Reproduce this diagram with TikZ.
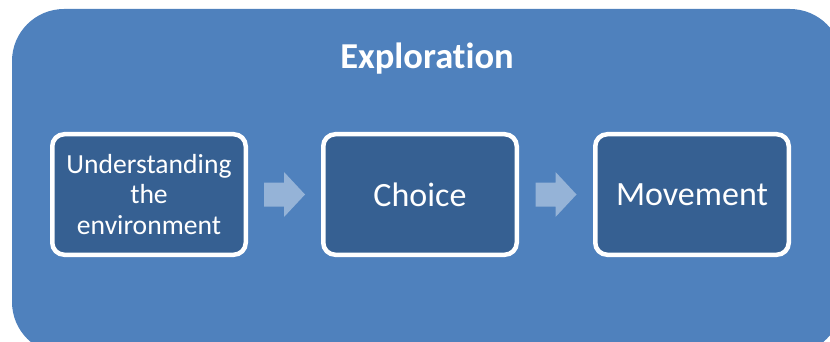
\documentclass[tikz,border=0pt]{standalone}
\usepackage{fontspec}
\setmainfont[Ligatures=NoCommon]{Carlito}
\usetikzlibrary{calc}
\definecolor{panelblue}{HTML}{4F81BD}
\definecolor{stepblue}{HTML}{366092}
\definecolor{arrowblue}{HTML}{95B3D7}
\tikzset{
  panel/.style={fill=panelblue, rounded corners=52pt},
  stepbox/.style={draw=white, line width=4.5pt, fill=stepblue, rounded corners=12pt,
    minimum width=193.5pt, minimum height=120.5pt, inner sep=0pt,
    text=white, align=center, font=\fontsize{34}{40}\selectfont},
  smalltext/.style={font=\fontsize{27.6}{30.5}\selectfont},
  titletext/.style={text=white, font=\fontsize{36.5}{42}\selectfont\bfseries, anchor=base},
  arrowfill/.style={fill=arrowblue}
}
\begin{document}
\begin{tikzpicture}[x=1pt,y=1pt]
  \useasboundingbox (0,0) rectangle (830,-342);
  \clip (0,0) rectangle (830,-342);
  % background panel
  \fill[panel] (12,-9) rectangle (842,-354);
  \node[titletext] (title) at (427,-69) {Explorat\kern0pt ion};
  % the three steps
  \node[stepbox, smalltext] (env) at (149,-194.5) {Understanding\\the\\environment};
  \node[stepbox] (choice) at (420,-194.5) {Choice};
  \node[stepbox] (move) at (692,-194.5) {Movement};
  % block arrows between the steps
  \coordinate (m1) at ($(env.east)!0.5!(choice.west)$);
  \coordinate (m2) at ($(choice.east)!0.5!(move.west)$);
  \foreach \m in {m1,m2}{
    \fill[arrowfill] (\m) ++(-20.5,-12) -- ++(20,0) -- ++(0,-10.5) -- ++(21,22.5)
      -- ++(-21,22.5) -- ++(0,-10.5) -- ++(-20,0) -- cycle;
  }
\end{tikzpicture}
\end{document}
